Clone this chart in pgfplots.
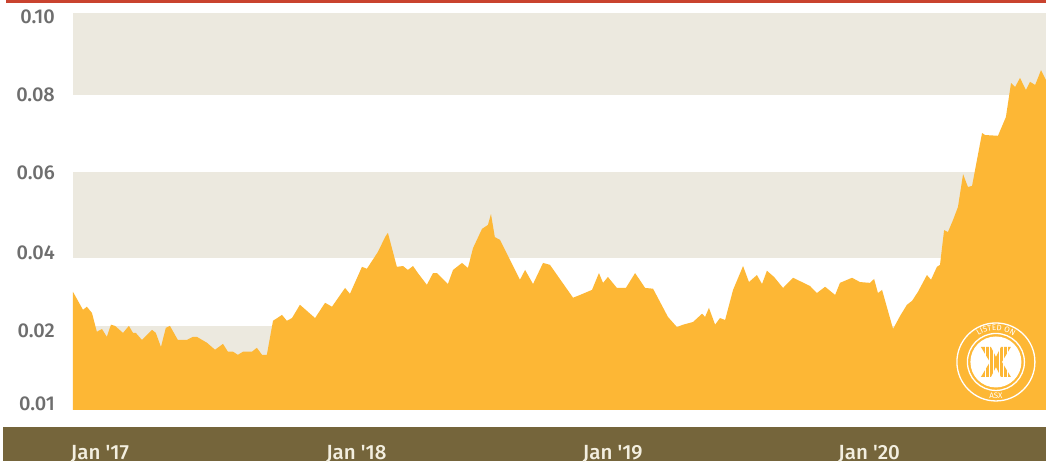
\documentclass[border=0pt]{standalone}
\usepackage{pgfplots}
\pgfplotsset{compat=1.18}
\usepackage{fontspec}
\setmainfont{Fira Sans}[BoldFont={* Medium}]
\usetikzlibrary{decorations.text}
\definecolor{areac}{HTML}{FDB735}
\definecolor{bandc}{HTML}{ECE9DF}
\definecolor{brownc}{HTML}{75653B}
\definecolor{redc}{HTML}{C9432F}
\definecolor{labc}{HTML}{6E6E6E}
\definecolor{xlabc}{HTML}{F3EFE0}
\begin{document}
\begin{tikzpicture}[x=1pt,y=1pt]
\fill[white] (0,0) rectangle (1046,461);
\fill[redc] (6,458) rectangle (1046,461);
\fill[brownc] (3,0) rectangle (1046,34);
\begin{axis}[at={(73pt,51pt)}, anchor=south west, scale only axis,
  width=973pt, height=397pt,
  xmin=2016.895, xmax=2020.689, ymin=-0.0015, ymax=0.10,
  axis line style={draw=none}, major tick length=0pt,
  xtick={2017,2018,2019,2020},
  xticklabels={Jan \textquotesingle 17,Jan \textquotesingle 18,Jan \textquotesingle 19,Jan \textquotesingle 20},
  xticklabel style={anchor=base, yshift=-50pt, font=\fontsize{20.5}{20.5}\selectfont\bfseries, text=xlabc},
  ytick={0.0001,0.0187,0.0387,0.0591,0.079,0.099},
  yticklabels={0.01,0.02,0.04,0.06,0.08,0.10},
  yticklabel style={anchor=east, inner sep=0pt, xshift=-18pt, font=\fontsize{20}{20}\selectfont\bfseries, text=labc},
  clip=true]
\fill[bandc] (axis cs:2016.895,0.079) rectangle (axis cs:2020.689,0.10);
\fill[bandc] (axis cs:2016.895,0.0374) rectangle (axis cs:2020.689,0.0594);
\fill[bandc] (axis cs:2016.895,-0.0015) rectangle (axis cs:2020.689,0.0200);
\addplot[fill=areac, draw=none] table {
x y
2016.895 -0.0015
2016.895 0.0287
2016.934 0.0241
2016.949 0.0249
2016.969 0.0233
2016.988 0.0185
2017.008 0.0192
2017.027 0.0172
2017.043 0.0203
2017.059 0.0200
2017.090 0.0182
2017.113 0.0200
2017.129 0.0182
2017.140 0.0182
2017.164 0.0164
2017.203 0.0190
2017.218 0.0182
2017.238 0.0146
2017.257 0.0195
2017.273 0.0200
2017.304 0.0164
2017.339 0.0164
2017.363 0.0172
2017.378 0.0172
2017.417 0.0157
2017.449 0.0139
2017.480 0.0154
2017.499 0.0134
2017.519 0.0134
2017.538 0.0126
2017.558 0.0134
2017.593 0.0134
2017.612 0.0144
2017.632 0.0126
2017.651 0.0126
2017.675 0.0213
2017.710 0.0228
2017.729 0.0213
2017.749 0.0220
2017.780 0.0254
2017.839 0.0220
2017.878 0.0259
2017.905 0.0249
2017.956 0.0297
2017.975 0.0282
2018.022 0.0351
2018.041 0.0346
2018.084 0.0389
2018.112 0.0427
2018.123 0.0438
2018.158 0.0351
2018.182 0.0353
2018.201 0.0343
2018.221 0.0353
2018.240 0.0335
2018.275 0.0305
2018.299 0.0335
2018.314 0.0335
2018.357 0.0307
2018.377 0.0343
2018.412 0.0361
2018.435 0.0348
2018.455 0.0399
2018.490 0.0448
2018.513 0.0458
2018.525 0.0486
2018.540 0.0427
2018.560 0.0420
2018.599 0.0369
2018.638 0.0318
2018.658 0.0343
2018.689 0.0307
2018.728 0.0361
2018.755 0.0356
2018.845 0.0272
2018.872 0.0279
2018.919 0.0292
2018.946 0.0335
2018.962 0.0310
2018.981 0.0325
2019.016 0.0297
2019.051 0.0297
2019.087 0.0335
2019.126 0.0297
2019.157 0.0295
2019.215 0.0223
2019.250 0.0197
2019.274 0.0203
2019.313 0.0210
2019.348 0.0231
2019.360 0.0223
2019.375 0.0246
2019.399 0.0203
2019.418 0.0220
2019.438 0.0215
2019.469 0.0292
2019.508 0.0353
2019.531 0.0312
2019.562 0.0330
2019.582 0.0307
2019.601 0.0341
2019.629 0.0325
2019.664 0.0297
2019.703 0.0323
2019.769 0.0302
2019.796 0.0284
2019.828 0.0300
2019.867 0.0279
2019.886 0.0310
2019.933 0.0323
2019.964 0.0312
2020.003 0.0310
2020.019 0.0320
2020.034 0.0284
2020.050 0.0292
2020.093 0.0192
2020.120 0.0225
2020.147 0.0254
2020.167 0.0264
2020.190 0.0287
2020.225 0.0330
2020.241 0.0318
2020.264 0.0351
2020.276 0.0356
2020.292 0.0445
2020.307 0.0440
2020.327 0.0471
2020.346 0.0504
2020.366 0.0588
2020.385 0.0555
2020.401 0.0558
2020.420 0.0624
2020.440 0.0693
2020.452 0.0688
2020.502 0.0686
2020.533 0.0734
2020.553 0.0821
2020.569 0.0811
2020.588 0.0834
2020.611 0.0803
2020.627 0.0824
2020.647 0.0816
2020.670 0.0854
2020.689 0.0829
2020.689 -0.0015
} -- cycle;
\end{axis}
\begin{scope}[shift={(996,99)}]
\draw[white, line width=1.3pt] (0,0) circle (39);
\draw[white, line width=1.3pt] (0,0) circle (28.5);
\fill[white] (0,0) circle (25.5);
\fill[areac] (-15,15) -- (-5,15) -- (0,5) -- (5,15) -- (15,15) -- (6,0) -- (15,-15) -- (5,-15) -- (0,-5) -- (-5,-15) -- (-15,-15) -- (-6,0) -- cycle;
\foreach \xx in {-11,-7,-3,3,7,11} \draw[white, line width=0.7pt] (\xx,-16) -- (\xx,16);
\path[decorate, decoration={text along path, text align=center, text={|\fontsize{8}{8}\selectfont\color{white}|LISTED ON}}] (155:31.5) arc (155:25:31.5);
\node[white, font=\fontsize{8}{8}\selectfont] at (0,-34) {ASX};
\end{scope}
\end{tikzpicture}
\end{document}
